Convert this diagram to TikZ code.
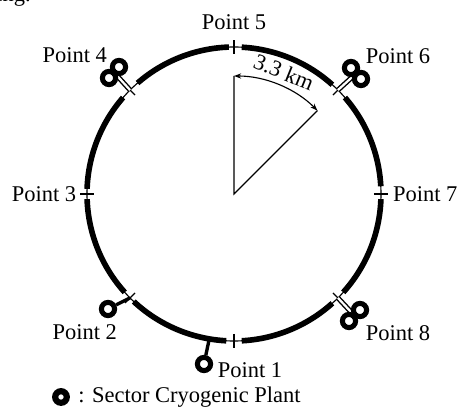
\documentclass[tikz,border=0pt]{standalone}
\usepackage{fontspec}
\setmainfont{Liberation Serif}
\usetikzlibrary{arrows.meta, positioning}

\begin{document}
\begin{tikzpicture}[
    >={Stealth[length=1.8mm, width=1.3mm]},
    every node/.style={font=\fontsize{16}{18}\selectfont, inner sep=0pt},
    ring/.style={line width=4pt},
    tick/.style={line width=0.8pt},
    plant/.style={circle, draw, line width=3.6pt, fill=white, minimum size=3.3mm},
    stem/.style={line width=2.4pt},
    twinstem/.style={draw, line width=1pt, double=white, double distance=1.6pt},
  ]
  \useasboundingbox (-5.85, -5.375) rectangle (5.6, 4.85);
  \node[anchor=west] (cut) at (-5.95, 4.95) {ing.};

  % ring
  \draw[tick] (0, 0) circle (3.675);
  \foreach \s/\e in {87/48, 41/3, -2/-42, -48/-87, 267/227, 222/182, 178/139, 131/92}
    \draw[ring] (\s:3.675) arc (\s:\e:3.675);
  \foreach \a in {0, 45, ..., 315}
    \draw[tick] (\a:3.5) -- (\a:3.85);

  % joints on the ring
  \coordinate (r1) at (-0.62, -3.63);
  \coordinate (r2) at (225:3.675);
  \coordinate (r4) at (135:3.675);
  \coordinate (r6) at (45:3.675);
  \coordinate (r8) at (-45:3.675);
  \coordinate (j4) at (-3.0, 3.04);
  \coordinate (j6) at (3.05, 3.01);
  \coordinate (j8) at (3.01, -3.04);

  % stems
  \draw[twinstem] (r4) -- (j4);
  \draw[twinstem] (r6) -- (j6);
  \draw[twinstem] (r8) -- (j8);

  % plants
  \node[plant] (p1) at (-0.75, -4.25) {};
  \node[plant] (p2) at (-3.15, -2.875) {};
  \node[plant] (p4a) at (-2.875, 3.175) {};
  \node[plant] (p4b) at (-3.125, 2.9) {};
  \node[plant] (p6a) at (2.925, 3.15) {};
  \node[plant] (p6b) at (3.175, 2.875) {};
  \node[plant] (p8a) at (3.15, -2.9) {};
  \node[plant] (p8b) at (2.875, -3.175) {};
  \draw[stem] (p1) -- (r1);
  \draw[stem] (p2) -- (r2);

  % sector
  \coordinate (apex) at (0, 0);
  \coordinate (top) at (90:2.95);
  \coordinate (side) at (45:2.95);
  \draw[tick] (top) -- (apex) -- (side);
  \draw[tick, <->] (top) arc (90:45:2.95);
  \node[rotate=-22] (dist) at (1.25, 3.05) {3.3 km};

  % labels
  \node (pt5) at (0, 4.3) {Point 5};
  \node (pt4) at (-3.98, 3.475) {Point 4};
  \node (pt6) at (4.1, 3.45) {Point 6};
  \node (pt3) at (-4.75, 0) {Point 3};
  \node (pt7) at (4.78, 0) {Point 7};
  \node (pt2) at (-3.73, -3.45) {Point 2};
  \node (pt1) at (0.4, -4.4) {Point 1};
  \node (pt8) at (4.1, -3.475) {Point 8};

  % legend
  \node[plant, line width=4.4pt, minimum size=2.9mm] (key) at (-4.325, -5.075) {};
  \node[anchor=west] (keytext) at (-3.9, -5.075) {: Sector Cryogenic Plant};
\end{tikzpicture}
\end{document}
